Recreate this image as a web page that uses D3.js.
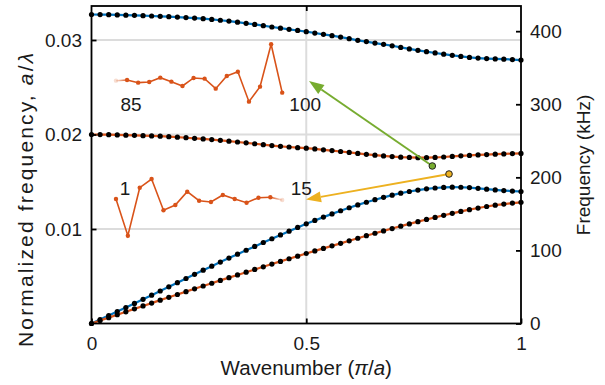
<!DOCTYPE html>
<html>
<head>
<meta charset="utf-8">
<script src="https://cdn.jsdelivr.net/npm/d3@7/dist/d3.min.js"></script>
<style>
  body { margin: 0; background: #fff; }
  text { font-family: "Liberation Sans", Arial, sans-serif; fill: #1a1a1a; }
</style>
</head>
<body>
<svg id="canvas" width="605" height="385"></svg>
<script>
// wavenumber samples (pi/a) and normalized frequency a/lambda of each band
let wavenumber = [0,0.02,0.04,0.06,0.08,0.1,0.12,0.14,0.16,0.18,0.2,0.22,0.24,0.26,0.28,0.3,0.32,0.34,0.36,0.38,
                  0.4,0.42,0.44,0.46,0.48,0.5,0.52,0.54,0.56,0.58,0.6,0.62,0.64,0.66,0.68,0.7,0.72,0.74,0.76,0.78,
                  0.8,0.82,0.84,0.86,0.88,0.9,0.92,0.94,0.96,0.98,1];
let band1 = [0,0.00042,0.00084,0.00126,0.00169,0.00212,0.00256,0.00300,0.00344,0.00388,0.00432,0.00476,0.00520,0.00564,
             0.00607,0.00650,0.00692,0.00734,0.00775,0.00816,0.00857,0.00897,0.00937,0.00977,0.01017,0.01055,0.01091,
             0.01126,0.01160,0.01193,0.01225,0.01255,0.01283,0.01310,0.01335,0.01358,0.01379,0.01397,0.01412,0.01425,
             0.01434,0.01440,0.01443,0.01442,0.01438,0.01431,0.01422,0.01414,0.01407,0.01401,0.01397];
let band2 = [0,0.00031,0.00062,0.00093,0.00124,0.00155,0.00186,0.00216,0.00247,0.00277,0.00307,0.00337,0.00367,0.00397,
             0.00426,0.00456,0.00485,0.00514,0.00543,0.00572,0.00600,0.00629,0.00657,0.00685,0.00713,0.00741,0.00768,
             0.00795,0.00822,0.00848,0.00875,0.00902,0.00929,0.00955,0.00980,0.01005,0.01030,0.01054,0.01078,0.01101,
             0.01123,0.01145,0.01166,0.01186,0.01205,0.01222,0.01238,0.01252,0.01264,0.01274,0.01282];
let band3 = [0.02000,0.01999,0.01998,0.01996,0.01993,0.01991,0.01988,0.01985,0.01982,0.01977,0.01972,0.01966,0.01960,
             0.01953,0.01946,0.01938,0.01930,0.01921,0.01912,0.01902,0.01892,0.01883,0.01875,0.01868,0.01861,0.01855,
             0.01847,0.01838,0.01830,0.01820,0.01810,0.01800,0.01790,0.01781,0.01773,0.01766,0.01760,0.01757,0.01755,
             0.01755,0.01757,0.01762,0.01768,0.01774,0.01779,0.01784,0.01788,0.01792,0.01795,0.01798,0.01800];
let band4 = [0.03270,0.03269,0.03268,0.03266,0.03263,0.03261,0.03258,0.03254,0.03251,0.03247,0.03243,0.03238,0.03232,
             0.03226,0.03218,0.03209,0.03200,0.03189,0.03177,0.03165,0.03152,0.03138,0.03125,0.03113,0.03101,0.03088,
             0.03074,0.03060,0.03046,0.03031,0.03014,0.02997,0.02983,0.02968,0.02954,0.02939,0.02922,0.02906,0.02891,
             0.02877,0.02863,0.02850,0.02838,0.02826,0.02816,0.02809,0.02804,0.02800,0.02797,0.02793,0.02788];

// mode profiles shown as small insets (cell index vs amplitude, arbitrary units)
let insetTopIdx = [85,86,87,88,89,90,91,92,93,94,95,96,97,98,99,100];
let insetTopAmp = [1.3,2,-0.7,0,4.3,0.3,-4,4,3.3,-6.7,6,10.3,-19.7,-4.7,37.7,-10.7];
let insetBotIdx = [1,2,3,4,5,6,7,8,9,10,11,12,13,14,15];
let insetBotAmp = [1,-35.7,12.3,21,-10.3,-5,8.3,-0.7,-2,5,1,-2.7,2.3,2.7,0];

let xTicks = [0, 0.5, 1];
let leftTicks = [0.01, 0.02, 0.03];
let rightTicks = [0, 100, 200, 300, 400];
let kHzPerUnit = 12930;   // c/a, converts a/lambda to kHz

let blue = '#0072BD', orange = '#D95319', green = '#77AC30', yellow = '#EDB120';

let svg = d3.select('#canvas');
let x = d3.scaleLinear().domain([0, 1]).range([91.5, 521]);
let y = d3.scaleLinear().domain([0, 0.0336]).range([323.5, 6]);
let yR = d3.scaleLinear().domain([0, 0.0336 * kHzPerUnit]).range([323.5, 6]);

// grid
svg.selectAll('.hgrid').data(leftTicks).enter().append('line')
   .attr('x1', x(0)).attr('x2', x(1))
   .attr('y1', d => y(d)).attr('y2', d => y(d))
   .attr('stroke', '#dcdcdc').attr('stroke-width', 2);
svg.append('line')
   .attr('x1', x(0.5)).attr('x2', x(0.5))
   .attr('y1', y.range()[1]).attr('y2', y.range()[0])
   .attr('stroke', '#dcdcdc').attr('stroke-width', 2);

// bands
let bands = [{v: band4, c: blue}, {v: band3, c: orange}, {v: band1, c: blue}, {v: band2, c: orange}];
let line = d3.line().x(d => x(d[0])).y(d => y(d[1]));
bands.forEach(b => {
  let pts = wavenumber.map((k, i) => [k, b.v[i]]);
  svg.append('path').datum(pts)
     .attr('d', line).attr('fill', 'none')
     .attr('stroke', b.c).attr('stroke-width', 2.2);
  svg.append('g').selectAll('circle').data(pts).enter().append('circle')
     .attr('cx', d => x(d[0])).attr('cy', d => y(d[1]))
     .attr('r', 2.6).attr('fill', '#000');
});

// insets
let defs = svg.append('defs');
function drawInset(idx, amp, fBase, fadeFirst, id) {
  let ix = d3.scaleLinear().domain([idx[0], idx[idx.length - 1]]).range([x(0.057), x(0.444)]);
  let pxPerAmp = y(0) - y(0.0001058);
  let iy = d3.scaleLinear().domain([0, 1]).range([y(fBase), y(fBase) - pxPerAmp]);
  let pts = idx.map((d, i) => [ix(d), iy(amp[i])]);
  let n = pts.length;
  let fadeSeg = fadeFirst ? [pts[0], pts[1]] : [pts[n - 2], pts[n - 1]];
  let solid = fadeFirst ? pts.slice(1) : pts.slice(0, n - 1);
  let grad = defs.append('linearGradient').attr('id', id)
     .attr('gradientUnits', 'userSpaceOnUse')
     .attr('x1', fadeSeg[0][0]).attr('x2', fadeSeg[1][0]).attr('y1', 0).attr('y2', 0);
  grad.append('stop').attr('offset', 0).attr('stop-color', orange).attr('stop-opacity', fadeFirst ? 0.15 : 1);
  grad.append('stop').attr('offset', 1).attr('stop-color', orange).attr('stop-opacity', fadeFirst ? 1 : 0.15);
  svg.append('path').attr('d', d3.line()(fadeSeg)).attr('fill', 'none')
     .attr('stroke', `url(#${id})`).attr('stroke-width', 1.6);
  svg.append('path').attr('d', d3.line()(solid)).attr('fill', 'none')
     .attr('stroke', orange).attr('stroke-width', 1.6);
  svg.append('g').selectAll('circle').data(pts).enter().append('circle')
     .attr('cx', d => d[0]).attr('cy', d => d[1]).attr('r', 2.2)
     .attr('fill', orange)
     .attr('opacity', (d, i) => (fadeFirst && i === 0) || (!fadeFirst && i === n - 1) ? 0.2 : 1);
  return ix;
}
let ixTop = drawInset(insetTopIdx, insetTopAmp, 0.02556, true, 'fadeTop');
let ixBot = drawInset(insetBotIdx, insetBotAmp, 0.01307, false, 'fadeBot');

let insetLabels = [
  {t: '85', px: ixTop(85) + 15, f: 0.02248},
  {t: '100', px: ixTop(100) + 23, f: 0.02248},
  {t: '1', px: ixBot(1) + 9, f: 0.01365},
  {t: '15', px: ixBot(15) + 19, f: 0.01365}
];
svg.selectAll('.ilab').data(insetLabels).enter().append('text')
   .attr('x', d => d.px).attr('y', d => y(d.f))
   .attr('text-anchor', 'middle').style('font-size', '19px')
   .text(d => d.t);

// arrows
let arrows = [
  {from: [0.7935, 0.01667], to: [0.5064, 0.02566], c: green},
  {from: [0.8324, 0.01582], to: [0.4994, 0.01312], c: yellow}
];
arrows.forEach(a => {
  let x0 = x(a.from[0]), y0 = y(a.from[1]), x1 = x(a.to[0]), y1 = y(a.to[1]);
  let ang = Math.atan2(y1 - y0, x1 - x0);
  let hl = 15, hw = 5.5;
  let bx = x1 - hl * Math.cos(ang), by = y1 - hl * Math.sin(ang);
  svg.append('line').attr('x1', x0).attr('y1', y0).attr('x2', bx).attr('y2', by)
     .attr('stroke', a.c).attr('stroke-width', 2);
  let p = [[x1, y1],
           [bx + hw * Math.sin(ang), by - hw * Math.cos(ang)],
           [bx - hw * Math.sin(ang), by + hw * Math.cos(ang)]];
  svg.append('polygon').attr('points', p.map(d => d.join(',')).join(' ')).attr('fill', a.c);
  svg.append('circle').attr('cx', x0).attr('cy', y0).attr('r', 3.3)
     .attr('fill', a.c).attr('stroke', '#222').attr('stroke-width', 1);
});

// axes
svg.append('rect')
   .attr('x', x(0)).attr('y', y.range()[1])
   .attr('width', x(1) - x(0)).attr('height', y.range()[0] - y.range()[1])
   .attr('fill', 'none').attr('stroke', '#000').attr('stroke-width', 1.8);

let gB = svg.append('g').attr('transform', `translate(0,${y.range()[0]})`)
   .call(d3.axisBottom(x).tickValues(xTicks).tickFormat(d3.format('')).tickSizeInner(-5).tickSizeOuter(0).tickPadding(13));
let gT = svg.append('g').attr('transform', `translate(0,${y.range()[1]})`)
   .call(d3.axisTop(x).tickValues([0.5]).tickFormat('').tickSizeInner(-5).tickSizeOuter(0));
let gL = svg.append('g').attr('transform', `translate(${x(0)},0)`)
   .call(d3.axisLeft(y).tickValues(leftTicks).tickFormat(d3.format('.2f')).tickSizeInner(-5).tickSizeOuter(0).tickPadding(9.5));
let gR = svg.append('g').attr('transform', `translate(${x(1)},0)`)
   .call(d3.axisRight(yR).tickValues(rightTicks).tickSizeInner(-5).tickSizeOuter(0).tickPadding(9));
[gB, gT, gL, gR].forEach(g => {
  g.select('.domain').remove();
  g.selectAll('.tick line').attr('stroke', '#000').attr('stroke-width', 1.8);
  g.selectAll('text').style('font-size', '19px').attr('fill', '#1a1a1a')
   .style('font-family', '"Liberation Sans", Arial, sans-serif');
});

// axis labels
let xl = svg.append('text').attr('x', x(0.5)).attr('y', 375)
   .attr('text-anchor', 'middle').style('font-size', '20.5px');
xl.append('tspan').text('Wavenumber (');
xl.append('tspan').style('font-style', 'italic').text('π');
xl.append('tspan').text('/');
xl.append('tspan').style('font-style', 'italic').text('a');
xl.append('tspan').text(')');

let yl = svg.append('text').attr('transform', 'translate(25,200) rotate(-90)')
   .attr('text-anchor', 'middle').attr('dominant-baseline', 'central').style('font-size', '21px')
   .attr('textLength', 294).attr('lengthAdjust', 'spacing');
yl.append('tspan').text('Normalized frequency, ');
yl.append('tspan').style('font-style', 'italic').text('a');
yl.append('tspan').text('/');
yl.append('tspan').style('font-style', 'italic').text('λ');

svg.append('text').attr('transform', 'translate(583,165) rotate(-90)')
   .attr('text-anchor', 'middle').attr('dominant-baseline', 'central').style('font-size', '19px')
   .text('Frequency (kHz)');
</script>
</body>
</html>
